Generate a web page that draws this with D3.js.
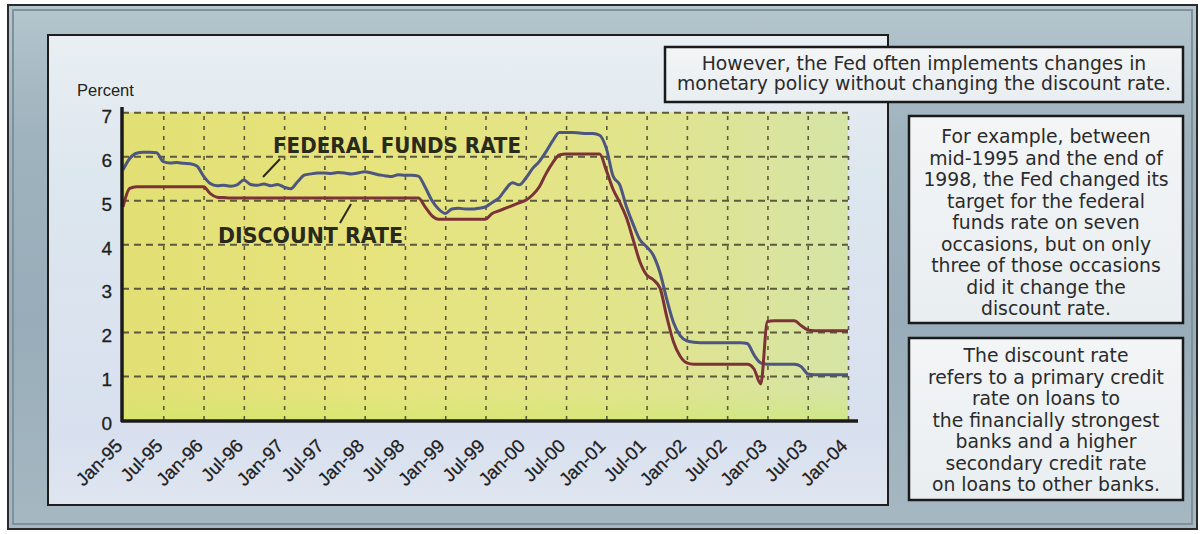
<!DOCTYPE html>
<html><head><meta charset="utf-8">
<script src="https://cdn.jsdelivr.net/npm/d3@7"></script>
<style>body{margin:0;background:#fff}svg{display:block}</style>
</head><body>
<svg id="c" width="1203" height="534"></svg>
<script>
// ---------- data (monthly, Jan-1995 .. Jan-2004) ----------
const startYear = 1995;
const tickLabels = ["Jan-95","Jul-95","Jan-96","Jul-96","Jan-97","Jul-97","Jan-98","Jul-98","Jan-99","Jul-99",
  "Jan-00","Jul-00","Jan-01","Jul-01","Jan-02","Jul-02","Jan-03","Jul-03","Jan-04"];
const yTicks = [0,1,2,3,4,5,6,7];
const fedFundsRate = [
  5.69,5.95,6.07,6.09,6.09,6.08,5.88,5.85,5.86,5.84,5.83,5.78,
  5.55,5.38,5.33,5.34,5.32,5.35,5.46,5.36,5.34,5.37,5.33,5.36,
  5.30,5.26,5.42,5.57,5.60,5.62,5.62,5.61,5.63,5.62,5.60,5.62,
  5.65,5.62,5.58,5.56,5.54,5.58,5.57,5.57,5.55,5.30,5.00,4.80,
  4.70,4.80,4.82,4.80,4.80,4.82,4.85,4.95,5.05,5.25,5.40,5.35,
  5.50,5.72,5.88,6.10,6.35,6.54,6.54,6.54,6.53,6.52,6.52,6.48,
  6.18,5.55,5.35,4.85,4.45,4.10,3.94,3.75,3.35,2.75,2.22,1.92,
  1.80,1.77,1.76,1.76,1.76,1.76,1.76,1.76,1.76,1.74,1.48,1.30,
  1.27,1.27,1.27,1.27,1.27,1.22,1.05,1.03,1.03,1.03,1.03,1.03,
  1.03];
const discountRate = [
  4.85,5.27,5.31,5.31,5.31,5.31,5.31,5.31,5.31,5.31,5.31,5.31,
  5.31,5.15,5.07,5.06,5.05,5.05,5.05,5.05,5.05,5.05,5.05,5.05,
  5.05,5.05,5.05,5.05,5.05,5.05,5.05,5.05,5.05,5.05,5.05,5.05,
  5.05,5.05,5.05,5.05,5.05,5.05,5.05,5.05,5.05,4.85,4.65,4.57,
  4.57,4.57,4.57,4.57,4.57,4.57,4.57,4.70,4.76,4.82,4.88,4.94,
  5.00,5.12,5.30,5.60,5.85,6.03,6.05,6.05,6.05,6.05,6.05,6.05,
  5.68,5.25,4.95,4.60,4.10,3.60,3.30,3.19,3.00,2.35,1.78,1.45,
  1.30,1.27,1.27,1.27,1.27,1.27,1.27,1.27,1.27,1.27,1.16,0.82,
  2.24,2.26,2.26,2.26,2.26,2.15,2.05,2.03,2.03,2.03,2.03,2.03,
  2.03];
const seriesNames = ["FEDERAL FUNDS RATE","DISCOUNT RATE"];
const box1Lines = ["However, the Fed often implements changes in","monetary policy without changing the discount rate."];
const box2Lines = ["For example, between","mid-1995 and the end of","1998, the Fed changed its","target for the federal",
  "funds rate on seven","occasions, but on only","three of those occasions","did it change the","discount rate."];
const box3Lines = ["The discount rate","refers to a primary credit","rate on loans to","the financially strongest",
  "banks and a higher","secondary credit rate","on loans to other banks."];

// ---------- layout ----------
const svg = d3.select("#c");
const L = 122, R = 848, T = 112.35, B = 420;
const x = d3.scaleLinear().domain([0, 108]).range([L + 1, R]);
const y = d3.scaleLinear().domain([0, 7]).range([B, T]);

const defs = svg.append("defs");
function lin(id, x1, y1, x2, y2, stops) {
  const g = defs.append("linearGradient").attr("id", id)
    .attr("x1", x1).attr("y1", y1).attr("x2", x2).attr("y2", y2);
  stops.forEach(s => g.append("stop").attr("offset", s[0]).attr("stop-color", s[1]));
}
lin("outerG", "0", "0", "0", "1", [[0, "#b4c5cd"], [0.25, "#9fb3be"], [0.6, "#98adb9"], [1, "#a6b8c2"]]);
lin("panelG", "0", "0", "0", "1", [[0, "#e9eff3"], [0.3, "#dde7ee"], [0.85, "#d8e0ef"], [1, "#dfe6f0"]]);
lin("plotG", "0", "0", "1", "0", [[0, "#e2df74"], [0.35, "#e7e47e"], [0.7, "#e2e48c"], [1, "#d6e4a6"]]);
lin("plotV", "0", "0", "0", "1", [[0, "rgba(255,255,255,0)"], [0.9, "rgba(200,235,110,0.0)"], [1, "rgba(200,235,100,0.45)"]]);
lin("boxG", "0", "0", "0", "1", [[0, "#f3f5f6"], [1, "#e9eef1"]]);

svg.append("rect").attr("width", 1203).attr("height", 534).attr("fill", "#fff");
svg.append("rect").attr("x", 8).attr("y", 5).attr("width", 1189).attr("height", 524)
  .attr("fill", "url(#outerG)").attr("stroke", "#2b2b2b").attr("stroke-width", 2);
svg.append("rect").attr("x", 13).attr("y", 10).attr("width", 1179).attr("height", 514)
  .attr("fill", "none").attr("stroke", "#7f919b").attr("stroke-width", 2);

// chart panel
svg.append("rect").attr("x", 48).attr("y", 35).attr("width", 840).attr("height", 470)
  .attr("fill", "url(#panelG)").attr("stroke", "#1e1e1e").attr("stroke-width", 2);

// plot area
svg.append("rect").attr("x", L).attr("y", T).attr("width", R - L).attr("height", B - T)
  .attr("fill", "url(#plotG)");
svg.append("rect").attr("x", L).attr("y", T).attr("width", R - L).attr("height", B - T)
  .attr("fill", "url(#plotV)");

// grid
const gridColor = "#5b5a3c";
svg.append("g").attr("transform", `translate(${L},0)`)
  .call(d3.axisLeft(y).tickValues(yTicks.slice(1)).tickSize(-(R - L)).tickFormat(""))
  .call(g => g.select(".domain").remove())
  .call(g => g.selectAll("line").attr("stroke", gridColor).attr("stroke-width", 2).attr("stroke-dasharray", "7,5"));
svg.append("g").attr("transform", `translate(0,${B})`)
  .call(d3.axisBottom(x).tickValues(d3.range(6, 109, 6)).tickSize(-(B - T)).tickFormat(""))
  .call(g => g.select(".domain").remove())
  .call(g => g.selectAll("line").attr("stroke", gridColor).attr("stroke-width", 1.6).attr("stroke-dasharray", "4,6"));

// series lines
const line = d3.line().x((d, i) => x(i)).y(d => y(d)).curve(d3.curveMonotoneX);
svg.append("path").datum(fedFundsRate).attr("d", line).attr("fill", "none")
  .attr("stroke", "#4c5681").attr("stroke-width", 3).attr("stroke-linejoin", "round");
svg.append("path").datum(discountRate).attr("d", line).attr("fill", "none")
  .attr("stroke", "#7b3336").attr("stroke-width", 3).attr("stroke-linejoin", "round");

// axes
const axFont = "Liberation Sans, Arial, sans-serif";
svg.append("g").attr("transform", `translate(0,${B + 1})`)
  .call(d3.axisBottom(x).tickValues(d3.range(0, 109, 6)).tickSize(0).tickFormat((d, i) => tickLabels[i]))
  .call(g => g.select(".domain").remove())
  .call(g => g.selectAll("text").attr("x", 0).attr("y", 0).attr("dy", 0)
    .attr("text-anchor", "end").attr("transform", "translate(0,26) rotate(-45)")
    .attr("font-family", axFont).attr("font-size", 18.5).attr("fill", "#1e1e1e")
    .attr("stroke", "#1e1e1e").attr("stroke-width", 0.3));
svg.append("line").attr("x1", L - 1).attr("x2", 858).attr("y1", B + 1).attr("y2", B + 1)
  .attr("stroke", "#1b1b1b").attr("stroke-width", 3.5);

svg.append("g").attr("transform", `translate(${L},0)`)
  .call(d3.axisLeft(y).tickValues(yTicks).tickSize(0).tickPadding(10).tickFormat(d3.format("d")))
  .call(g => g.select(".domain").remove())
  .call(g => g.selectAll("text").attr("dy", "0.36em").attr("transform", "translate(0,3)")
    .attr("font-family", axFont).attr("font-size", 19).attr("fill", "#1e1e1e")
    .attr("stroke", "#1e1e1e").attr("stroke-width", 0.3));
svg.append("line").attr("x1", L).attr("x2", L).attr("y1", 107).attr("y2", B + 2)
  .attr("stroke", "#1b1b1b").attr("stroke-width", 3.5);

svg.append("text").attr("x", 77).attr("y", 96).text("Percent")
  .attr("font-family", axFont).attr("font-size", 16.5).attr("fill", "#222");

// series annotations
const annFont = "DejaVu Sans Condensed, DejaVu Sans, sans-serif";
svg.append("text").attr("x", 273).attr("y", 152.5).text(seriesNames[0])
  .attr("font-family", annFont).attr("font-weight", "bold").attr("font-size", 22)
  .attr("textLength", 248).attr("lengthAdjust", "spacingAndGlyphs").attr("fill", "#2a2a1c");
svg.append("text").attr("x", 218).attr("y", 242.5).text(seriesNames[1])
  .attr("font-family", annFont).attr("font-weight", "bold").attr("font-size", 22)
  .attr("textLength", 185).attr("lengthAdjust", "spacingAndGlyphs").attr("fill", "#2a2a1c");
svg.append("line").attr("x1", 280).attr("y1", 159).attr("x2", 263).attr("y2", 177)
  .attr("stroke", "#2a2a1c").attr("stroke-width", 2);
svg.append("line").attr("x1", 351).attr("y1", 204).attr("x2", 340).attr("y2", 223)
  .attr("stroke", "#2a2a1c").attr("stroke-width", 2);

// text boxes
const boxFont = "DejaVu Sans, sans-serif";
function box(bx, by, bw, bh, lines, base, step, fs) {
  svg.append("rect").attr("x", bx).attr("y", by).attr("width", bw).attr("height", bh)
    .attr("fill", "url(#boxG)").attr("stroke", "#1a1a1a").attr("stroke-width", 2.5);
  svg.append("g").selectAll("text").data(lines).join("text")
    .attr("x", bx + bw / 2).attr("y", (d, i) => base + i * step).attr("text-anchor", "middle")
    .attr("font-family", boxFont).attr("font-size", fs).attr("fill", "#2b2b2b").text(d => d);
}
box(665, 47, 518, 55, box1Lines, 70, 19.5, 18.8);
box(909, 116, 274, 207, box2Lines, 143, 21.5, 18.8);
box(909, 338, 274, 162, box3Lines, 362, 21.5, 18.8);
</script>
</body></html>
